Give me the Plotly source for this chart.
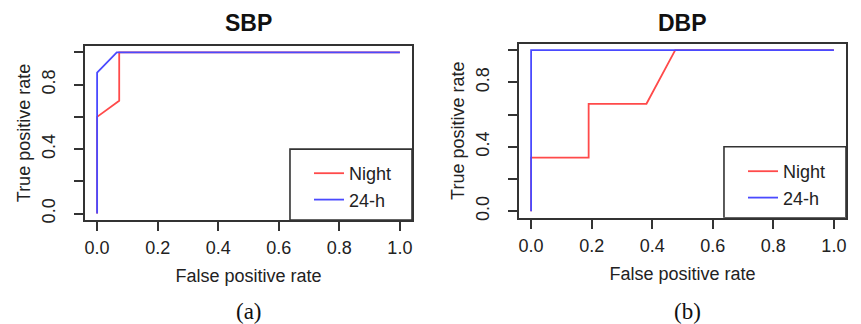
import plotly.graph_objects as go

# ---- data ----
sbp_night_fpr = [0.0, 0.0, 0.073, 0.073, 1.0]
sbp_night_tpr = [0.0, 0.60, 0.70, 1.0, 1.0]
sbp_24h_fpr = [0.0, 0.0, 0.065, 1.0]
sbp_24h_tpr = [0.0, 0.875, 1.0, 1.0]

dbp_night_fpr = [0.0, 0.0, 0.19, 0.19, 0.381, 0.476, 1.0]
dbp_night_tpr = [0.0, 0.333, 0.333, 0.667, 0.667, 1.0, 1.0]
dbp_24h_fpr = [0.0, 0.0, 1.0]
dbp_24h_tpr = [0.0, 1.0, 1.0]

panel_titles = ["SBP", "DBP"]
panel_labels = ["(a)", "(b)"]
series_names = ["Night", "24-h"]
tick_vals = [0.0, 0.2, 0.4, 0.6, 0.8, 1.0]
x_tick_text = ["0.0", "0.2", "0.4", "0.6", "0.8", "1.0"]
y_tick_text = ["0.0", "", "0.4", "", "0.8", ""]

RED = "#ff4a4a"
BLUE = "#4a4aff"
FONT = "Liberation Sans"
AXC = "#333333"

fig = go.Figure()

fig.add_trace(go.Scatter(x=sbp_night_fpr, y=sbp_night_tpr, mode="lines", name=series_names[0],
                         line=dict(color=RED, width=1.8), xaxis="x", yaxis="y", legend="legend"))
fig.add_trace(go.Scatter(x=sbp_24h_fpr, y=sbp_24h_tpr, mode="lines", name=series_names[1],
                         line=dict(color=BLUE, width=1.8), xaxis="x", yaxis="y", legend="legend"))
fig.add_trace(go.Scatter(x=dbp_night_fpr, y=dbp_night_tpr, mode="lines", name=series_names[0],
                         line=dict(color=RED, width=1.8), xaxis="x2", yaxis="y2", legend="legend2"))
fig.add_trace(go.Scatter(x=dbp_24h_fpr, y=dbp_24h_tpr, mode="lines", name=series_names[1],
                         line=dict(color=BLUE, width=1.8), xaxis="x2", yaxis="y2", legend="legend2"))

ml, mr, mt, mb = 85, 15, 43, 104
W, H = 861, 324
pw = W - ml - mr
ph = H - mt - mb

def px_x(p):
    return (p - ml) / pw

def px_y(p):
    return (H - mb - p) / ph

axis_common = dict(
    range=[-0.04, 1.04], showgrid=False, zeroline=False,
    showline=True, mirror=True, linecolor=AXC, linewidth=1.6,
    ticks="outside", ticklen=9, tickwidth=1.5, tickcolor=AXC,
    tickvals=tick_vals, tickfont=dict(family=FONT, size=18, color="#222"),
)

xtitle = dict(text="False positive rate", font=dict(size=18, family=FONT, color="#222"), standoff=12)
ytitle = dict(text="True positive rate", font=dict(size=18, family=FONT, color="#222"), standoff=4)

fig.update_layout(
    width=W, height=H,
    margin=dict(l=ml, r=mr, t=mt, b=mb),
    paper_bgcolor="white", plot_bgcolor="white",
    font=dict(family=FONT, color="#222"),
    xaxis=dict(domain=[0, px_x(412)], anchor="y", ticktext=x_tick_text, ticklabelstandoff=2,
               title=xtitle, **axis_common),
    yaxis=dict(domain=[px_y(220), px_y(46)], anchor="x", ticktext=y_tick_text, tickangle=-90,
               ticklabelstandoff=12, title=ytitle, **axis_common),
    xaxis2=dict(domain=[px_x(519), 1], anchor="y2", ticktext=x_tick_text, ticklabelstandoff=2,
                title=xtitle, **axis_common),
    yaxis2=dict(domain=[px_y(217.7), px_y(43.7)], anchor="x2", ticktext=y_tick_text, tickangle=-90,
                ticklabelstandoff=12, title=ytitle, **axis_common),
    legend=dict(x=px_x(309), y=px_y(155), xanchor="left", yanchor="top",
                bgcolor="rgba(0,0,0,0)", borderwidth=0, tracegroupgap=0,
                font=dict(family=FONT, size=18, color="#222")),
    legend2=dict(x=px_x(743), y=px_y(153), xanchor="left", yanchor="top",
                 bgcolor="rgba(0,0,0,0)", borderwidth=0, tracegroupgap=0,
                 font=dict(family=FONT, size=18, color="#222")),
    showlegend=True,
)

# legend frames (R-style bottom-right legend box)
for xr, yr in [("x", "y"), ("x2", "y2")]:
    fig.add_shape(type="rect", xref=xr, yref=yr, x0=0.637, x1=1.04, y0=-0.04, y1=0.40,
                  line=dict(color=AXC, width=1.6), fillcolor="rgba(0,0,0,0)")

# titles and panel labels
for title, cx, cy in [(panel_titles[0], 248.5, 23), (panel_titles[1], 682.5, 23)]:
    fig.add_annotation(text="<b>%s</b>" % title, xref="paper", yref="paper",
                       x=px_x(cx), y=px_y(cy), showarrow=False, xanchor="center", yanchor="middle",
                       font=dict(family=FONT, size=23, color="#111"))
for lab, cx in [(panel_labels[0], 249), (panel_labels[1], 687)]:
    fig.add_annotation(text=lab, xref="paper", yref="paper",
                       x=px_x(cx), y=px_y(311), showarrow=False, xanchor="center", yanchor="middle",
                       font=dict(family="Liberation Serif", size=23, color="#111"))

fig.write_html("out.html")
